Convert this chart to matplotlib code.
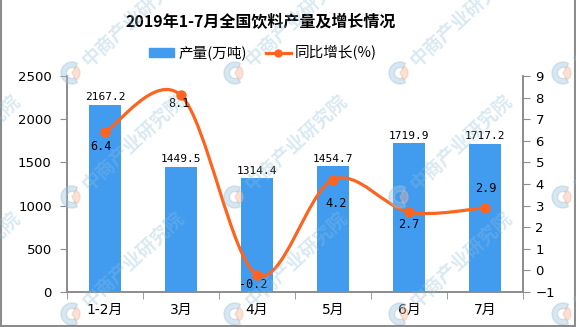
import numpy as np
import matplotlib
matplotlib.use('Agg')
import matplotlib.pyplot as plt
import matplotlib.patches as patches
from matplotlib.path import Path
from matplotlib.lines import Line2D

plt.rcParams['font.family'] = ['DejaVu Sans', 'Noto Sans CJK SC']

# 数据
months = ['1-2月', '3月', '4月', '5月', '6月', '7月']
output = [2167.2, 1449.5, 1314.4, 1454.7, 1719.9, 1717.2]   # 产量(万吨)
growth = [6.4, 8.1, -0.2, 4.2, 2.7, 2.9]                     # 同比增长(%)
# 增长率标签偏移(像素)
growth_offsets = [(-4, -14), (-2, -8), (-4, -10), (3, -24), (0, -12), (1, 19)]

bar_color = '#419cf0'
line_color = '#fd6420'
axis_color = '#8c8c8c'

W, H = 576, 327
fig = plt.figure(figsize=(W / 100, H / 100), dpi=100)
ax = fig.add_axes([67 / W, 1 - 292 / H, (523 - 67) / W, (292 - 76) / H])
ax2 = ax.twinx()

x = np.arange(len(months))
ax.bar(x, output, width=0.42, color=bar_color, zorder=2)
for xi, v in zip(x, output):
    ax.annotate(f'{v:.1f}', (xi, v), xytext=(0, 2), textcoords='offset points',
                ha='center', va='bottom', fontsize=8, family='DejaVu Sans Mono')

ax.set_xlim(-0.5, len(months) - 0.5)
ax.set_ylim(0, 2500)
ax.set_yticks(np.arange(0, 2501, 500))
ax.set_xticks(x)
ax.set_xticklabels(months, fontsize=10)
ax.set_xticks(np.arange(-0.5, len(months), 1), minor=True)
ax.tick_params(axis='x', which='major', length=0, pad=8)
ax.tick_params(axis='x', which='minor', length=5, color=axis_color)
ax.tick_params(axis='y', length=5, color=axis_color, labelsize=9.5, pad=6)

ax2.set_ylim(-1, 9)
ax2.set_yticks(np.arange(-1, 10, 1))
ax2.tick_params(axis='y', length=5, color=axis_color, labelsize=9.5, pad=4)

for a in (ax, ax2):
    a.spines['top'].set_visible(False)
    for s in ('left', 'right', 'bottom'):
        a.spines[s].set_color(axis_color)
        a.spines[s].set_linewidth(1.2)

# 平滑曲线 (Catmull-Rom 转贝塞尔)
pts = np.column_stack([x, growth]).astype(float)
ext = np.vstack([pts[0], pts, pts[-1]])
verts = [pts[0]]
codes = [Path.MOVETO]
for i in range(len(pts) - 1):
    p0, p1, p2, p3 = ext[i], ext[i + 1], ext[i + 2], ext[i + 3]
    verts += [p1 + (p2 - p0) / 6, p2 - (p3 - p1) / 6, p2]
    codes += [Path.CURVE4] * 3
ax2.add_patch(patches.PathPatch(Path(verts, codes), fill=False,
                                edgecolor=line_color, lw=2.3, zorder=3))
ax2.plot(x, growth, 'o', color=line_color, markersize=6.5, zorder=4)
for xi, v, (dx, dy) in zip(x, growth, growth_offsets):
    ax2.annotate(f'{v}', (xi, v), xytext=(dx * 0.72, dy * 0.72),
                 textcoords='offset points', ha='center', va='center',
                 fontsize=8.5, family='DejaVu Sans Mono', zorder=5)

fig.text(261 / W, 1 - 22 / H, '2019年1-7月全国饮料产量及增长情况',
         ha='center', va='center', fontsize=11.5, fontweight='bold',
         family=['Noto Sans CJK SC'])

handles = [patches.Rectangle((0, 0), 1, 1, color=bar_color),
           Line2D([], [], color=line_color, lw=2.3, marker='o', markersize=5)]
fig.legend(handles, ['产量(万吨)', '同比增长(%)'], loc='center',
           bbox_to_anchor=(263 / W, 1 - 53 / H), ncol=2, frameon=False,
           handlelength=1.7, handleheight=0.6, columnspacing=1.3,
           handletextpad=0.3, prop={'family': ['Noto Sans CJK SC'], 'size': 10.5})

# 水印
for lx in (-92, 72, 235, 400, 563):
    for ly in (73, 197, 314):
        cx, cy = lx / 100, (H - ly) / 100
        fig.patches.append(patches.Wedge((cx, cy), 0.11, 60, 300, width=0.055,
                                         color='#9cc3dc', alpha=0.4,
                                         transform=fig.dpi_scale_trans))
        fig.patches.append(patches.Wedge((cx, cy), 0.08, -60, 60,
                                         color='#f3b49a', alpha=0.4,
                                         transform=fig.dpi_scale_trans))
        fig.text((lx + 13) / W, 1 - (ly - 10) / H, '中商产业研究院',
                 rotation=43, rotation_mode='anchor', ha='left', va='center',
                 fontsize=13.5, fontweight='bold', color='#8dbcd8', alpha=0.33,
                 family=['Noto Sans CJK SC'])

# 外框
for xs, ys in (([0.5 / W, 0.5 / W], [0, 1]), ([1 - 1 / W, 1 - 1 / W], [0, 1]),
               ([0, 1], [1.5 / H, 1.5 / H])):
    fig.add_artist(Line2D(xs, ys, color=axis_color, lw=1.5, transform=fig.transFigure))

fig.savefig('out.png', dpi=100)
